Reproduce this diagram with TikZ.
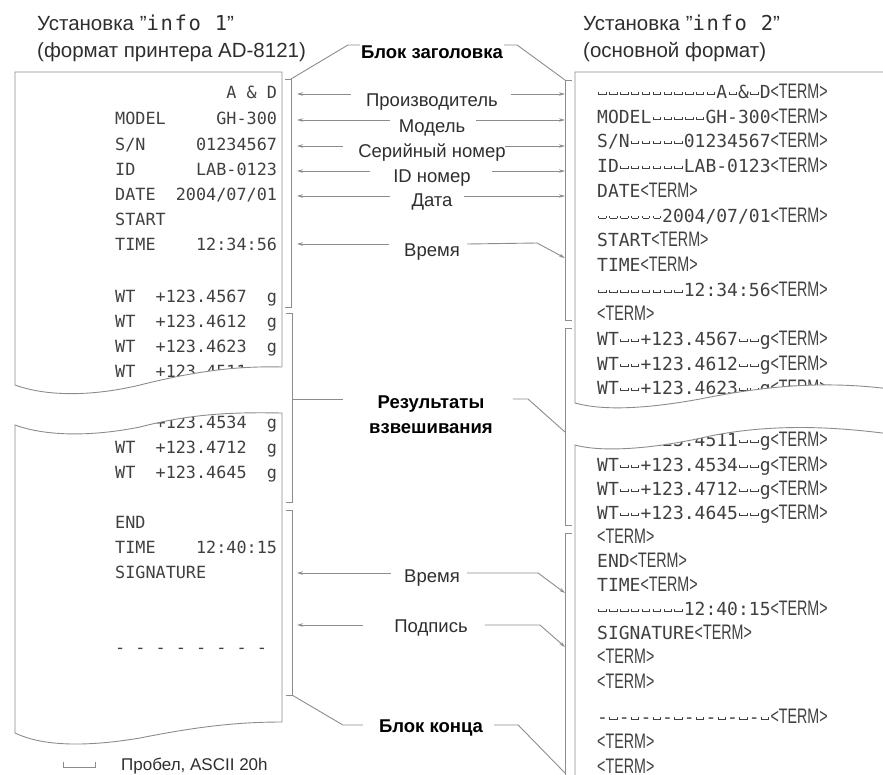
\documentclass[tikz,border=0pt]{standalone}
\usepackage{fontspec}
\usepackage{graphicx}
\setmainfont{Liberation Sans}
\newfontfamily\prfont{DejaVu Sans Mono}
\usetikzlibrary{arrows.meta, positioning}

\definecolor{papertext}{HTML}{404040}
\definecolor{labeltext}{HTML}{2E2E2E}
\definecolor{linegray}{HTML}{8C8C8C}

% visible space mark of the printer output
\newcommand{\spmark}{\makebox[0.602em]{\raisebox{0.2em}{\rule{0.05em}{0.16em}\rule{0.36em}{0.05em}\rule{0.05em}{0.16em}}}}
\newcommand{\spn}[1]{\foreach \k in {1,...,#1}{\spmark}}
\newcommand{\term}{\scalebox{0.68}[1]{\rmfamily\fontsize{21}{21}\selectfont <TERM>}}

\begin{document}
\begin{tikzpicture}[x=1pt, y=-1pt,
    lrow/.style={anchor=base west, inner sep=0pt, text=papertext,
      font=\prfont\fontsize{16.8}{18}\selectfont},
    rrow/.style={anchor=base west, inner sep=0pt, text=papertext,
      font=\prfont\fontsize{18}{20}\selectfont},
    lbl/.style={inner sep=1pt, text=labeltext,
      font=\fontsize{18.5}{22}\selectfont},
    blk/.style={inner sep=1pt, text=black, align=center,
      font=\bfseries\fontsize{18.5}{25}\selectfont},
    title/.style={anchor=base west, inner sep=0pt, text=labeltext,
      font=\fontsize{20.5}{24}\selectfont},
    paper/.style={draw=linegray, line width=0.9pt},
    brace/.style={draw=linegray, line width=0.9pt},
    conn/.style={draw=linegray, line width=0.9pt},
    arr/.style={conn, -{Stealth[length=6pt, width=3.5pt]}}
  ]
  \useasboundingbox (0,0) rectangle (883,774);
  \clip (0,0) rectangle (883,774);

  % titles
  \node[title] (title1) at (37,30) {Установка "{\prfont\addfontfeature{LetterSpace=8}info 1}"};
  \node[title] (title1b) at (37,57) {(формат принтера AD-8121)};
  \node[title] (title2) at (583,30) {Установка "{\prfont\addfontfeature{LetterSpace=8}info 2}"};
  \node[title] (title2b) at (583,57) {(основной формат)};

  % printer format AD-8121
  \node[lrow] (lmaker) at (115,98) {~~~~~~~~~~~A~\&~D};
  \node[lrow] (lmodel) at (115,124) {MODEL~~~~~GH-300};
  \node[lrow] (lserial) at (115,150) {S/N~~~~~01234567};
  \node[lrow] (lid) at (115,175) {ID~~~~~~LAB-0123};
  \node[lrow] (ldate) at (115,200) {DATE~~2004/07/01};
  \node[lrow] (lstart) at (115,225) {START};
  \node[lrow] (ltime1) at (115,250) {TIME~~~~12:34:56};
  \node[lrow] (lwt1) at (115,302) {WT~~+123.4567~~g};
  \node[lrow] (lwt2) at (115,327) {WT~~+123.4612~~g};
  \node[lrow] (lwt3) at (115,352) {WT~~+123.4623~~g};
  \node[lrow] (lwt4) at (115,377) {WT~~+123.4511~~g};
  \node[lrow] (lwt5) at (115,428) {WT~~+123.4534~~g};
  \node[lrow] (lwt6) at (115,453) {WT~~+123.4712~~g};
  \node[lrow] (lwt7) at (115,478) {WT~~+123.4645~~g};
  \node[lrow] (lend) at (115,528) {END};
  \node[lrow] (ltime2) at (115,553) {TIME~~~~12:40:15};
  \node[lrow] (lsign) at (115,578) {SIGNATURE};
  \node[lrow] (ldash) at (115,653) {-~-~-~-~-~-~-~-};

  % general format
  \node[rrow] (rmaker) at (597,98.5) {\spn{11}A\spmark\&\spmark D\term};
  \node[rrow] (rmodel) at (597,123.2) {MODEL\spn{5}GH-300\term};
  \node[rrow] (rserial) at (597,147.9) {S/N\spn{5}01234567\term};
  \node[rrow] (rid) at (597,172.6) {ID\spn{6}LAB-0123\term};
  \node[rrow] (rdate) at (597,197.3) {DATE\term};
  \node[rrow] (rdateval) at (597,222) {\spn{6}2004/07/01\term};
  \node[rrow] (rstart) at (597,246.7) {START\term};
  \node[rrow] (rtime1) at (597,271.4) {TIME\term};
  \node[rrow] (rtimeval1) at (597,296.1) {\spn{8}12:34:56\term};
  \node[rrow] (rterm1) at (597,320.8) {\term};
  \node[rrow] (rwt1) at (597,345.5) {WT\spn{2}+123.4567\spn{2}g\term};
  \node[rrow] (rwt2) at (597,370.2) {WT\spn{2}+123.4612\spn{2}g\term};
  \node[rrow] (rwt3) at (597,394.9) {WT\spn{2}+123.4623\spn{2}g\term};
  \node[rrow] (rwt4) at (597,446.5) {WT\spn{2}+123.4511\spn{2}g\term};
  \node[rrow] (rwt5) at (597,471.5) {WT\spn{2}+123.4534\spn{2}g\term};
  \node[rrow] (rwt6) at (597,495.5) {WT\spn{2}+123.4712\spn{2}g\term};
  \node[rrow] (rwt7) at (597,519.5) {WT\spn{2}+123.4645\spn{2}g\term};
  \node[rrow] (rterm2) at (597,543.5) {\term};
  \node[rrow] (rend) at (597,567.5) {END\term};
  \node[rrow] (rtime2) at (597,591.5) {TIME\term};
  \node[rrow] (rtimeval2) at (597,615.5) {\spn{8}12:40:15\term};
  \node[rrow] (rsign) at (597,639.5) {SIGNATURE\term};
  \node[rrow] (rterm3) at (597,663.5) {\term};
  \node[rrow] (rterm4) at (597,688.5) {\term};
  \node[rrow] (rdash) at (597,723.5) {-\spmark-\spmark-\spmark-\spmark-\spmark-\spmark-\spmark-\spmark\term};
  \node[rrow] (rterm5) at (597,748.5) {\term};
  \node[rrow] (rterm6) at (597,773.5) {\term};

  % torn gaps
  \fill[white] (15,385) .. controls (45,396) and (90,397) .. (140,385)
    .. controls (200,370) and (240,366) .. (282,367) -- (283,367) -- (283,413)
    -- (282,413) .. controls (230,412) and (190,414) .. (140,427)
    .. controls (90,437) and (45,436) .. (15,425) -- (14,425) -- (14,385) -- cycle;
  \fill[white] (575,403) .. controls (600,410) and (640,410) .. (700,399)
    .. controls (760,387) and (820,380) .. (890,389) -- (890,434)
    .. controls (830,426) and (770,424) .. (710,436)
    .. controls (650,450) and (600,452) .. (575,445) -- (574,445) -- (574,403) -- cycle;

  % paper outlines
  \draw[paper] (282,367) -- (282,72) -- (15,72) -- (15,385)
    .. controls (45,396) and (90,397) .. (140,385)
    .. controls (200,370) and (240,366) .. (282,367);
  \draw[paper] (15,425) .. controls (45,436) and (90,437) .. (140,427)
    .. controls (190,414) and (230,412) .. (282,413) -- (282,722)
    .. controls (240,722) and (200,726) .. (140,738)
    .. controls (80,748) and (40,745) .. (15,733) -- cycle;
  \draw[paper] (890,389) .. controls (820,380) and (760,387) .. (700,399)
    .. controls (640,410) and (600,410) .. (575,403) -- (575,72) -- (890,72);
  \draw[paper] (575,790) -- (575,445) .. controls (600,452) and (650,450) .. (710,436)
    .. controls (770,424) and (830,426) .. (890,434);

  % brackets
  \draw[brace] (285,79) -- (291,79) -- (291,307) -- (285,307);
  \draw[brace] (286,313) -- (292,313) -- (292,502) -- (286,502);
  \draw[brace] (286,510) -- (292,510) -- (292,695) -- (286,695);
  \draw[brace] (572,80) -- (565,80) -- (565,320) -- (572,320);
  \draw[brace] (572,328) -- (565,328) -- (565,525) -- (572,525);
  \draw[brace] (572,533) -- (565,533) -- (565,790);
  \coordinate (headL) at (291,79);
  \coordinate (headR) at (565,80);
  \coordinate (resL) at (292,399);
  \coordinate (resR) at (565,432);
  \coordinate (endL) at (292,695);
  \coordinate (endR) at (565,773);

  % labels
  \node[blk] (head) at (432,52) {Блок заголовка};
  \node[lbl] (maker) at (432,102) {Производитель};
  \node[lbl] (model) at (432,128) {Модель};
  \node[lbl] (serial) at (432,153) {Серийный номер};
  \node[lbl] (idno) at (432,178) {ID номер};
  \node[lbl] (date) at (432,202) {Дата};
  \node[lbl] (time1) at (432,252) {Время};
  \node[blk] (res) at (431,415) {Результаты\\взвешивания};
  \node[lbl] (time2) at (432,578) {Время};
  \node[lbl] (sign) at (431,628) {Подпись};
  \node[blk] (tail) at (431,728) {Блок конца};

  % arrow tips
  \coordinate (tipL1) at (297,94);  \coordinate (tipR1) at (565,94);
  \coordinate (tipL2) at (297,120); \coordinate (tipR2) at (565,120);
  \coordinate (tipL3) at (297,146); \coordinate (tipR3) at (565,146);
  \coordinate (tipL4) at (297,171); \coordinate (tipR4) at (565,171);
  \coordinate (tipL5) at (297,196); \coordinate (tipR5) at (565,196);
  \coordinate (tipL6) at (297,244); \coordinate (tipR6) at (565,258);
  \coordinate (tipL7) at (297,573); \coordinate (tipR7) at (565,593);
  \coordinate (tipL8) at (297,625); \coordinate (tipR8) at (565,647);

  \draw[arr] (maker.west |- tipL1) ++(-14,0) -- (tipL1);
  \draw[arr] (maker.east |- tipR1) ++(12,0) -- (tipR1);
  \draw[arr] (model.west |- tipL2) ++(-8,0) -- (tipL2);
  \draw[arr] (model.east |- tipR2) ++(10,0) -- (tipR2);
  \draw[arr] (serial.west |- tipL3) ++(-14,0) -- (tipL3);
  \draw[arr] (serial.east |- tipR3) ++(-2,0) -- (tipR3);
  \draw[arr] (idno.west |- tipL4) ++(-22,0) -- (tipL4);
  \draw[arr] (idno.east |- tipR4) ++(20,0) -- (tipR4);
  \draw[arr] (date.west |- tipL5) ++(-20,0) -- (tipL5);
  \draw[arr] (date.east |- tipR5) ++(10,0) -- (tipR5);
  \draw[arr] (time1.west |- tipL6) ++(-14,0) -- (tipL6);
  \draw[arr] (time1.east |- tipL6) ++(6,0) -- ([shift={(-28,-15)}]tipR6) -- (tipR6);
  \draw[arr] (time2.west |- tipL7) ++(-12,0) -- (tipL7);
  \draw[arr] (time2.east |- tipL7) ++(6,0) -- ([shift={(-27,-20)}]tipR7) -- (tipR7);
  \draw[arr] (sign.west |- tipL8) ++(-30,0) -- (tipL8);
  \draw[arr] (sign.east |- tipL8) ++(16,0) -- ([shift={(-25,-22)}]tipR8) -- (tipR8);

  % block leaders
  \draw[conn] (head.west) ++(0,-7) -- ++(-12,0) -- (headL);
  \draw[conn] (head.east) ++(0,-7) -- ++(13,0) -- (headR);
  \draw[conn] (res.west |- resL) ++(-25,0) -- (resL);
  \draw[conn] (res.east |- resL) ++(19,0) -- ++(15,0) -- (resR);
  \draw[conn] (tail.west) ++(-15,-3) -- ++(-20,0) -- (endL);
  \draw[conn] (tail.east) ++(10,-3) -- ++(24,0) -- (endR);

  % legend
  \draw[conn] (63,762) -- (63,767) -- (95,767) -- (95,762);
  \node[lbl, anchor=west, font=\fontsize{17}{20}\selectfont] (legend) at (120,766) {Пробел, ASCII 20h};
\end{tikzpicture}
\end{document}
